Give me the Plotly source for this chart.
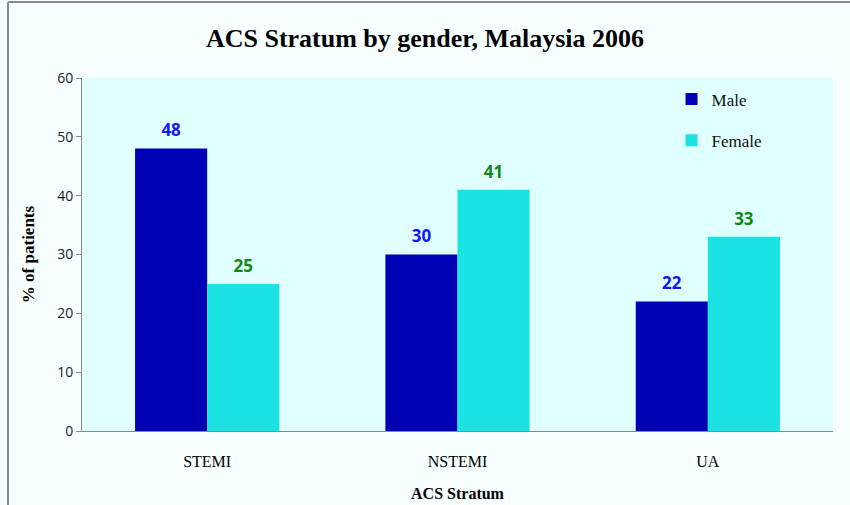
import plotly.graph_objects as go

categories = ["STEMI", "NSTEMI", "UA"]
male = [48, 30, 22]
female = [25, 41, 33]
y_ticks = [0, 10, 20, 30, 40, 50, 60]

serif = "Liberation Serif, Times New Roman, serif"
sans = "Open Sans, Lato, sans-serif"

fig = go.Figure()
fig.add_trace(go.Bar(x=categories, y=male, name="Male", legendgroup="m",
                     offsetgroup="m", marker=dict(color="#0000b4", line=dict(width=0))))
fig.add_trace(go.Bar(x=categories, y=female, name="Female", legendgroup="f",
                     offsetgroup="f", marker=dict(color="#1ce3e3", line=dict(width=0))))

# value labels, aligned with the grouped bars
fig.add_trace(go.Scatter(x=categories, y=male, mode="markers+text", text=[str(v) for v in male],
                         textposition="top center", offsetgroup="m", showlegend=False,
                         marker=dict(size=11, color="rgba(0,0,0,0)"), hoverinfo="skip",
                         textfont=dict(family=sans, size=17, color="#1414ff", weight="bold")))
fig.add_trace(go.Scatter(x=categories, y=female, mode="markers+text", text=[str(v) for v in female],
                         textposition="top center", offsetgroup="f", showlegend=False,
                         marker=dict(size=11, color="rgba(0,0,0,0)"), hoverinfo="skip",
                         textfont=dict(family=sans, size=17, color="#118811", weight="bold")))

fig.update_layout(
    width=850, height=505,
    margin=dict(l=82, r=17, t=78, b=74, autoexpand=False),
    paper_bgcolor="#f8ffff",
    plot_bgcolor="#e0ffff",
    barmode="group", bargap=0.424, bargroupgap=0,
    scattermode="group", scattergap=0.424,
    title=dict(text="<b>ACS Stratum by gender, Malaysia 2006</b>", x=0.5, xanchor="center",
               y=1 - 38 / 505, yanchor="middle",
               font=dict(family=serif, size=26, color="#000000")),
    legend=dict(x=0.785, y=0.99, xanchor="left", yanchor="top", bgcolor="rgba(0,0,0,0)",
                font=dict(family=serif, size=17, color="#111111"),
                traceorder="grouped", tracegroupgap=16),
    xaxis=dict(type="category", range=[-0.5, 2.5], showgrid=False, showline=True,
               linecolor="#888888", linewidth=1, ticks="", automargin=False,
               tickfont=dict(family=serif, size=16, color="#000000"), ticklabelstandoff=16,
               title=dict(text="<b>ACS Stratum</b>", standoff=18,
                          font=dict(family=serif, size=16, color="#000000"))),
    yaxis=dict(range=[0, 60], tickvals=y_ticks, showgrid=False, showline=True,
               linecolor="#888888", linewidth=1, ticks="outside", ticklen=5, tickcolor="#888888",
               tickfont=dict(family=sans, size=14, color="#222222"), zeroline=False,
               automargin=False,
               title=dict(text="<b>% of patients</b>", standoff=18,
                          font=dict(family=serif, size=17, color="#000000"))),
    showlegend=True,
)

# slide frame lines (top and left)
fig.add_shape(type="line", xref="paper", yref="paper",
              x0=(8 - 82) / 751, x1=(850 - 82) / 751, y0=(431 - 2) / 353, y1=(431 - 2) / 353,
              line=dict(color="#8a8a8a", width=2))
fig.add_shape(type="line", xref="paper", yref="paper",
              x0=(8 - 82) / 751, x1=(8 - 82) / 751, y0=(431 - 2) / 353, y1=(431 - 505) / 353,
              line=dict(color="#8a8a8a", width=2))

fig.write_html("out.html", config={"displayModeBar": False},
               post_script="document.body.style.margin='0';document.body.style.padding='0';")
